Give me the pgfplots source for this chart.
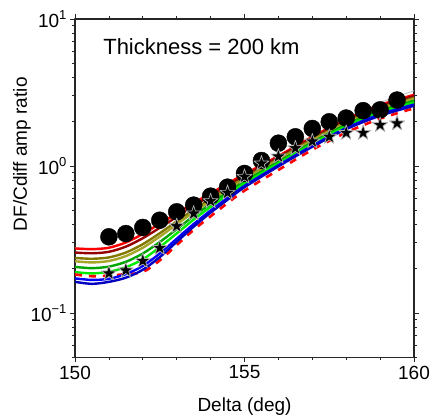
\documentclass[border=0pt]{standalone}
\usepackage{pgfplots}
\pgfplotsset{compat=1.18}
\usepackage{fontspec}
\setmainfont{Liberation Sans}
\definecolor{cdred}{RGB}{150,0,0}
\definecolor{colive}{RGB}{130,120,0}
\definecolor{colivetwo}{RGB}{165,165,40}
\definecolor{cdgreen}{RGB}{0,165,0}
\definecolor{cgreen}{RGB}{0,235,0}
\definecolor{cdblue}{RGB}{0,0,190}
\pgfdeclareplotmark{fstar}{%
 \pgfpathmoveto{\pgfpointpolar{90}{\pgfplotmarksize}}%
 \pgfpathlineto{\pgfpointpolar{126}{0.382\pgfplotmarksize}}%
 \pgfpathlineto{\pgfpointpolar{162}{\pgfplotmarksize}}%
 \pgfpathlineto{\pgfpointpolar{198}{0.382\pgfplotmarksize}}%
 \pgfpathlineto{\pgfpointpolar{234}{\pgfplotmarksize}}%
 \pgfpathlineto{\pgfpointpolar{270}{0.382\pgfplotmarksize}}%
 \pgfpathlineto{\pgfpointpolar{306}{\pgfplotmarksize}}%
 \pgfpathlineto{\pgfpointpolar{342}{0.382\pgfplotmarksize}}%
 \pgfpathlineto{\pgfpointpolar{18}{\pgfplotmarksize}}%
 \pgfpathlineto{\pgfpointpolar{54}{0.382\pgfplotmarksize}}%
 \pgfpathclose
 \pgfusepathqfillstroke
}
\newcommand{\sups}[1]{\raisebox{0.42em}{\fontsize{13bp}{13bp}\selectfont #1}}
\begin{document}
\begin{tikzpicture}
\begin{axis}[
 scale only axis, width=339bp, height=338.3bp,
 xmin=150, xmax=160, ymode=log, ymin=0.05, ymax=10,
 xtick={150,155,160}, xticklabels={150,155,160},
 minor xtick={151,152,153,154,156,157,158,159},
 ytick={0.1,1,10},
 yticklabels={10\sups{−1},10\sups{0},10\sups{1}},
 minor ytick={0.05,0.06,0.07,0.08,0.09,0.2,0.3,0.4,0.5,0.6,0.7,0.8,0.9,2,3,4,5,6,7,8,9},
 tick align=outside,
 major tick length=5bp, minor tick length=3bp,
 every tick/.style={black!85, line width=0.8bp},
 axis line style={line width=1.2bp, black!85},
 ticklabel style={font=\fontsize{19bp}{21bp}\selectfont},
 line join=round,
]
\coordinate (sw) at (rel axis cs:0,0);
\coordinate (ne) at (rel axis cs:1,1);
\coordinate (yl) at (rel axis cs:0,0.6);
\coordinate (xl) at (rel axis cs:0.5,0);
% observed DF/Cdiff ratios (circles)
\addplot[only marks, mark=*, mark size=8.5bp, mark options={fill=black, draw=black}] coordinates {
(151.0,0.330) (151.5,0.347) (152.0,0.382) (152.5,0.428) (153.0,0.488) (153.5,0.542)
(154.0,0.624) (154.5,0.718) (155.0,0.890) (155.5,1.09) (156.0,1.43) (156.5,1.58)
(157.0,1.80) (157.5,2.00) (158.0,2.12) (158.5,2.38) (159.0,2.41) (159.5,2.81)};
% model curves
\addplot[gray!50, line width=0.9bp, smooth] coordinates {
(150,0.278) (150.5,0.275) (151,0.281) (151.5,0.305) (152,0.349) (152.5,0.409) (153,0.480)
(153.5,0.566) (154,0.657) (154.5,0.768) (155,0.889) (156,1.18) (157,1.60) (158,2.12) (159,2.70) (160,3.25)};
\addplot[red, line width=2.4bp, smooth] coordinates {
(150,0.275) (150.5,0.272) (151,0.278) (151.5,0.302) (152,0.345) (152.5,0.405) (153,0.475)
(153.5,0.56) (154,0.65) (154.5,0.76) (155,0.88) (156,1.17) (157,1.58) (158,2.08) (159,2.6) (160,3.05)};
\addplot[cdred, line width=2.4bp, smooth] coordinates {
(150,0.258) (150.5,0.255) (151,0.261) (151.5,0.283) (152,0.323) (152.5,0.380) (153,0.451)
(153.5,0.536) (154,0.628) (154.5,0.738) (155,0.857) (156,1.148) (157,1.552) (158,2.042) (159,2.547) (160,2.985)};
\addplot[colive, line width=2.4bp, smooth] coordinates {
(150,0.237) (150.5,0.234) (151,0.239) (151.5,0.258) (152,0.294) (152.5,0.349) (153,0.420)
(153.5,0.505) (154,0.597) (154.5,0.708) (155,0.830) (156,1.117) (157,1.514) (158,1.991) (159,2.483) (160,2.904)};
\addplot[colivetwo, line width=2.4bp, smooth] coordinates {
(150,0.225) (150.5,0.221) (151,0.226) (151.5,0.244) (152,0.278) (152.5,0.331) (153,0.401)
(153.5,0.486) (154,0.579) (154.5,0.690) (155,0.813) (156,1.099) (157,1.489) (158,1.959) (159,2.438) (160,2.858)};
\addplot[cdgreen, line width=2.4bp, smooth] coordinates {
(150,0.206) (150.5,0.202) (151,0.207) (151.5,0.223) (152,0.254) (152.5,0.304) (153,0.372)
(153.5,0.457) (154,0.552) (154.5,0.662) (155,0.785) (156,1.069) (157,1.449) (158,1.910) (159,2.371) (160,2.773)};
\addplot[cgreen, line width=2.4bp, smooth] coordinates {
(150,0.190) (150.5,0.186) (151,0.191) (151.5,0.205) (152,0.232) (152.5,0.281) (153,0.348)
(153.5,0.432) (154,0.527) (154.5,0.637) (155,0.762) (156,1.042) (157,1.416) (158,1.866) (159,2.312) (160,2.704)};
\addplot[red, line width=2.6bp, dash pattern=on 7bp off 7bp, smooth] coordinates {
(150,0.183) (150.5,0.178) (151,0.180) (151.5,0.184) (152,0.190) (152.5,0.228) (153,0.29)
(153.5,0.368) (154,0.455) (154.5,0.56) (155,0.68) (156,0.94) (157,1.29) (158,1.69) (159,2.1) (160,2.47)};
\addplot[blue, line width=2.4bp, smooth] coordinates {
(150,0.172) (150.5,0.168) (151,0.171) (151.5,0.184) (152,0.209) (152.5,0.254) (153,0.320)
(153.5,0.403) (154,0.498) (154.5,0.607) (155,0.733) (156,1.012) (157,1.374) (158,1.811) (159,2.249) (160,2.618)};
\addplot[cdblue, line width=2.4bp, smooth] coordinates {
(150,0.163) (150.5,0.158) (151,0.163) (151.5,0.174) (152,0.197) (152.5,0.240) (153,0.305)
(153.5,0.387) (154,0.482) (154.5,0.590) (155,0.718) (156,0.995) (157,1.352) (158,1.782) (159,2.198) (160,2.570)};
% observed (stars)
\addplot[only marks, mark=fstar, mark size=8bp, mark options={fill=black, draw=gray!60, line width=0.7bp}] coordinates {
(151.0,0.186) (151.5,0.195) (152.0,0.226) (152.5,0.277) (153.0,0.390) (153.5,0.475)
(154.0,0.577) (154.5,0.657) (155.0,0.844) (155.5,1.04) (156.0,1.16) (156.5,1.32)
(157.0,1.47) (157.5,1.58) (158.0,1.68) (158.5,1.68) (159.0,1.90) (159.5,1.95)};
\node[font=\fontsize{22bp}{24bp}\selectfont] at (rel axis cs:0.373,0.917) {Thickness = 200 km};
\end{axis}
\node[rotate=90, font=\fontsize{19bp}{21bp}\selectfont] at ([xshift=-53bp]yl) {DF/Cdiff amp ratio};
\node[font=\fontsize{19bp}{21bp}\selectfont] at ([yshift=-49bp]xl) {Delta (deg)};
\pgfresetboundingbox
\path ([shift={(-75bp,-60.7bp)}]sw) rectangle ([shift={(18bp,19bp)}]ne);
\end{tikzpicture}
\end{document}
